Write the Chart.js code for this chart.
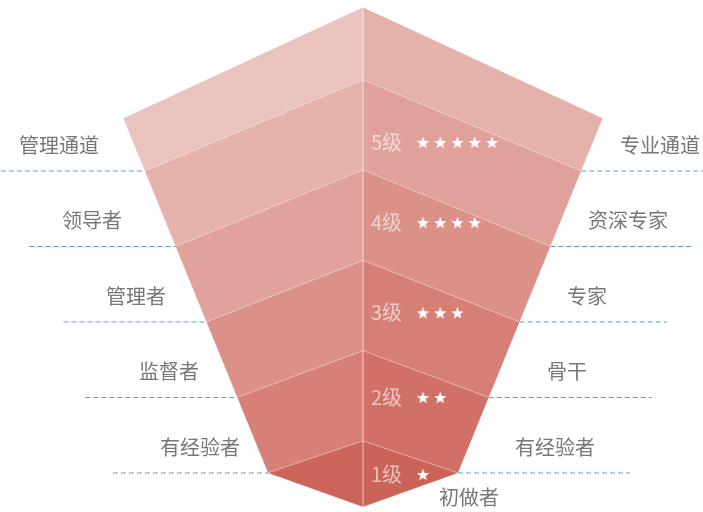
<!DOCTYPE html>
<html>
<head>
<meta charset="utf-8">
<script src="https://cdn.jsdelivr.net/npm/chart.js@4.4.1/dist/chart.umd.min.js"></script>
<style>
    html, body { margin: 0; padding: 0; background: #fff; }
    #wrap { width: 703px; height: 512px; position: relative; }
</style>
</head>
<body>
<div id="wrap"><canvas id="funnelChart"></canvas></div>
<script>
// ---- data (bottom level first) ----
const levelNames = ["1级", "2级", "3级", "4级", "5级"];
const starCounts = [1, 2, 3, 4, 5];
const leftTitles = ["有经验者", "监督者", "管理者", "领导者", "管理通道"];
const rightTitles = ["有经验者", "骨干", "专家", "资深专家", "专业通道"];
const bottomTitle = "初做者";

// ---- styles (index 5 = top cap) ----
const leftColors = ["#cc6459", "#d68078", "#db9189", "#e0a29b", "#e5b3ac", "#eac3bf"];
const rightColors = ["#cb6358", "#d17067", "#d67f77", "#db9088", "#e0a19a", "#e5b2ab"];

// ---- layout (x in 100px units from the axis, y in level units) ----
const GEO = {
    baseHalf: 0.95, slope: 0.308,    // half width of the funnel per level
    rise0: 0.424, riseSlope: 0.196,  // how high the ridge centre sits above its sides
    capTop: 4.7, capRise: 1.47,      // top face
    tipDrop: 0.45                    // bottom point
};
const leftLineLen = [1.55, 1.52, 1.43, 1.46, 1.44];
const rightLineLen = [1.72, 1.63, 1.47, 1.44, 1.5];
const leftLabelX = [-1.63, -1.94, -2.27, -2.71, -3.04];
const rightLabelX = [1.92, 2.04, 2.24, 2.65, 2.97];
const labelLift = 0.34;
const bottomLabelPos = { x: 1.06, y: -0.32 };
const levelTextX = 0.08, starX0 = 0.60, starGap = 0.1725;
const levelTextShift = [-0.01, 0.09, 0.025, 0.03, -0.1];

function halfW(u) { return GEO.baseHalf + GEO.slope * u; }

function ridge(u) {
    const w = halfW(u);
    const r = GEO.rise0 + GEO.riseSlope * u;
    return [{ x: -w, y: u }, { x: 0, y: u + r }, { x: w, y: u }];
}

function bandEdges(i) {
    // i = 0..4 levels, 5 = cap
    if (i === 5) {
        const w = halfW(GEO.capTop);
        const top = [{ x: -w, y: GEO.capTop }, { x: 0, y: GEO.capTop + GEO.capRise }, { x: w, y: GEO.capTop }];
        return { top, bottom: ridge(4) };
    }
    const top = ridge(i);
    let bottom;
    if (i === 0) {
        const w = halfW(0);
        bottom = [{ x: -w, y: 0 }, { x: 0, y: -GEO.tipDrop }, { x: w, y: 0 }];
    } else {
        bottom = ridge(i - 1);
    }
    return { top, bottom };
}

function yOnEdge(edge, x) {
    const t = x / edge[2].x;
    return edge[1].y + (edge[2].y - edge[1].y) * t;
}

function bandMidY(i, x) {
    const e = bandEdges(i);
    return (yOnEdge(e.top, x) + yOnEdge(e.bottom, x)) / 2;
}

// text row of each level (name and stars share it)
function levelRowY(i) {
    return bandMidY(i, levelTextX + 0.16) + levelTextShift[i];
}

// star sprite
function makeStar(size) {
    const c = document.createElement("canvas");
    c.width = size; c.height = size;
    const g = c.getContext("2d");
    const cx = size / 2, cy = size / 2 + 0.6, R = size / 2, r = R * 0.42;
    g.beginPath();
    for (let k = 0; k < 10; k++) {
        const a = -Math.PI / 2 + k * Math.PI / 5;
        const rad = k % 2 === 0 ? R : r;
        g.lineTo(cx + rad * Math.cos(a), cy + rad * Math.sin(a));
    }
    g.closePath();
    g.fillStyle = "#ffffff";
    g.fill();
    return c;
}
const starImg = makeStar(13);

const datasets = [];

// stars
const starPoints = [];
starCounts.forEach((n, i) => {
    const y = levelRowY(i);
    for (let k = 0; k < n; k++) {
        starPoints.push({ x: starX0 + k * starGap, y });
    }
});
datasets.push({
    label: "stars",
    data: starPoints,
    showLine: false,
    pointStyle: starImg,
    pointRadius: 6,
    order: 0
});

// funnel faces
for (let i = 0; i <= 5; i++) {
    const e = bandEdges(i);
    const leftPoly = [e.top[0], e.top[1], e.bottom[1], e.bottom[0], e.top[0]];
    const rightPoly = [e.top[1], e.top[2], e.bottom[2], e.bottom[1], e.top[1]];
    [[leftPoly, leftColors[i]], [rightPoly, rightColors[i]]].forEach(([poly, color]) => {
        datasets.push({
            data: poly,
            backgroundColor: color,
            borderColor: "rgba(255,255,255,0.22)",
            borderWidth: 1,
            fill: "shape",
            pointRadius: 0,
            tension: 0,
            order: 2
        });
    });
}

// dashed guide lines
for (let u = 0; u < 5; u++) {
    const w = halfW(u);
    datasets.push({
        data: [{ x: -w - leftLineLen[u], y: u }, { x: -w, y: u }],
        borderColor: "#5b9bd5",
        borderWidth: 1,
        borderDash: [5, 3],
        pointRadius: 0,
        fill: false,
        order: 1
    });
    datasets.push({
        data: [{ x: w, y: u }, { x: w + rightLineLen[u], y: u }],
        borderColor: "#5b9bd5",
        borderWidth: 1,
        borderDash: [5, 3],
        pointRadius: 0,
        fill: false,
        order: 1
    });
}

const labelPlugin = {
    id: "funnelLabels",
    afterDatasetsDraw(chart) {
        const { ctx, scales: { x, y } } = chart;
        ctx.save();
        ctx.textBaseline = "middle";

        // side titles
        ctx.font = '20px "Noto Sans CJK SC", sans-serif';
        ctx.fillStyle = "#777777";
        ctx.textAlign = "center";
        for (let u = 0; u < 5; u++) {
            const py = y.getPixelForValue(u + labelLift);
            ctx.fillText(leftTitles[u], x.getPixelForValue(leftLabelX[u]), py);
            ctx.fillText(rightTitles[u], x.getPixelForValue(rightLabelX[u]), py);
        }
        ctx.fillText(bottomTitle, x.getPixelForValue(bottomLabelPos.x), y.getPixelForValue(bottomLabelPos.y));

        // level names
        ctx.textAlign = "left";
        ctx.fillStyle = "rgba(255,255,255,0.6)";
        levelNames.forEach((name, i) => {
            ctx.fillText(name, x.getPixelForValue(levelTextX), y.getPixelForValue(levelRowY(i)));
        });
        ctx.restore();
    }
};

new Chart(document.getElementById("funnelChart").getContext("2d"), {
    type: "line",
    data: { datasets },
    options: {
        responsive: true,
        maintainAspectRatio: false,
        animation: false,
        layout: { padding: 0, autoPadding: false },
        plugins: {
            legend: { display: false },
            tooltip: { enabled: false }
        },
        scales: {
            x: { type: "linear", min: -3.63, max: 3.40, display: false },
            y: { type: "linear", min: -0.517, max: 6.265, display: false }
        }
    },
    plugins: [labelPlugin]
});
</script>
</body>
</html>
